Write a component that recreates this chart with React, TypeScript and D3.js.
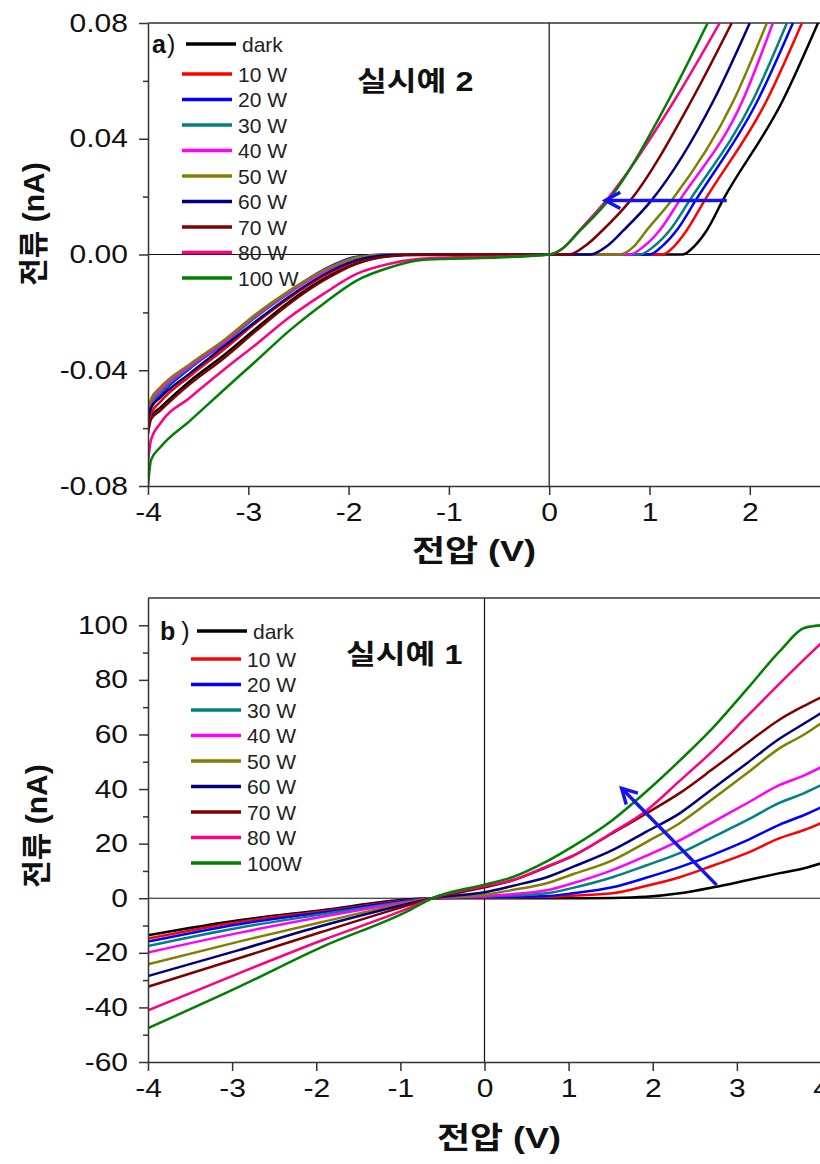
import * as d3 from 'd3'
import { useEffect, useRef } from 'react'

const seriesNamesA = ['dark', '10 W', '20 W', '30 W', '40 W', '50 W', '60 W', '70 W', '80 W', '100 W']
const seriesNamesB = ['dark', '10 W', '20 W', '30 W', '40 W', '50 W', '60 W', '70 W', '80 W', '100W']
const seriesColors = ['#000000', '#ff0000', '#0000ff', '#008080', '#ff00ff', '#808000', '#000080', '#800000', '#ff0080', '#008000']

// panel a) points as [voltage (V), current (nA)]
const aDark = [[-4, -0.061], [-3.97, -0.056], [-3.88, -0.053], [-3.58, -0.0437], [-3.25, -0.035], [-2.92, -0.0255], [-2.59, -0.0163], [-2.25, -0.0085], [-1.92, -0.003], [-1.59, -0.0005], [-1.29, 0], [1.33, 0], [1.45, 0.003], [1.57, 0.0083], [1.73, 0.0187], [2.33, 0.0533], [2.68, 0.08]]
const a10 = [[-4, -0.059], [-3.97, -0.055], [-3.88, -0.051], [-3.58, -0.042], [-3.25, -0.033], [-2.92, -0.0235], [-2.59, -0.015], [-2.25, -0.0075], [-1.92, -0.0022], [-1.59, -0.0003], [-1.29, 0], [1.13, 0], [1.25, 0.003], [1.37, 0.0083], [1.55, 0.0187], [2.17, 0.0533], [2.52, 0.08]]
const a20 = [[-4, -0.056], [-3.97, -0.0525], [-3.88, -0.0485], [-3.58, -0.0393], [-3.25, -0.0308], [-2.92, -0.021], [-2.59, -0.0128], [-2.25, -0.0053], [-1.92, -0.0008], [-1.59, 0], [1.0, 0], [1.13, 0.003], [1.27, 0.0083], [1.46, 0.0187], [2.08, 0.0533], [2.43, 0.08]]
const a30 = [[-4, -0.056], [-3.97, -0.052], [-3.88, -0.048], [-3.58, -0.039], [-3.25, -0.031], [-2.92, -0.0215], [-2.59, -0.0133], [-2.25, -0.0058], [-1.92, -0.001], [-1.59, 0], [0.9, 0], [1.05, 0.003], [1.2, 0.0083], [1.4, 0.0187], [2.03, 0.0533], [2.37, 0.08]]
const a40 = [[-4, -0.055], [-3.97, -0.051], [-3.88, -0.047], [-3.58, -0.0385], [-3.25, -0.0305], [-2.92, -0.021], [-2.59, -0.013], [-2.25, -0.006], [-1.92, -0.0012], [-1.59, 0], [0.8, 0], [0.95, 0.003], [1.1, 0.0083], [1.3, 0.0187], [1.93, 0.0533], [2.23, 0.08]]
const a50 = [[-4, -0.054], [-3.97, -0.05], [-3.88, -0.046], [-3.58, -0.0378], [-3.25, -0.0298], [-2.92, -0.0205], [-2.59, -0.0125], [-2.25, -0.0055], [-1.92, -0.001], [-1.59, 0], [0.7, 0], [0.85, 0.003], [0.97, 0.0083], [1.22, 0.0187], [1.84, 0.0533], [2.17, 0.08]]
const a60 = [[-4, -0.057], [-3.97, -0.053], [-3.88, -0.0495], [-3.58, -0.041], [-3.25, -0.032], [-2.92, -0.023], [-2.59, -0.0145], [-2.25, -0.007], [-1.92, -0.002], [-1.59, -0.0002], [-1.29, 0], [0.41, 0], [0.58, 0.003], [0.74, 0.0083], [1.02, 0.0187], [1.64, 0.0533], [2.0, 0.08]]
const a70 = [[-4, -0.062], [-3.97, -0.057], [-3.88, -0.054], [-3.58, -0.0447], [-3.25, -0.036], [-2.92, -0.0263], [-2.59, -0.017], [-2.25, -0.009], [-1.92, -0.0032], [-1.59, -0.0006], [-1.29, -0.0002], [0.2, 0], [0.36, 0.003], [0.53, 0.0083], [0.81, 0.0187], [1.42, 0.0533], [1.82, 0.08]]
const a80 = [[-4, -0.072], [-3.97, -0.064], [-3.88, -0.0585], [-3.58, -0.0494], [-3.25, -0.04], [-2.92, -0.031], [-2.59, -0.0217], [-2.25, -0.0136], [-1.92, -0.0067], [-1.59, -0.0032], [-1.29, -0.0015], [-1.0, -0.001], [-0.5, -0.0008], [0, 0], [0.13, 0.002], [0.3, 0.0083], [0.57, 0.0187], [1.25, 0.0533], [1.7, 0.08]]
const a100 = [[-4, -0.08], [-3.97, -0.071], [-3.88, -0.0667], [-3.58, -0.0574], [-3.25, -0.047], [-2.92, -0.0367], [-2.59, -0.0263], [-2.25, -0.017], [-1.92, -0.009], [-1.59, -0.0045], [-1.29, -0.002], [-1.0, -0.0015], [-0.5, -0.001], [0, 0], [0.13, 0.002], [0.31, 0.0083], [0.59, 0.0187], [1.19, 0.0533], [1.58, 0.08]]

// panel b) currents (nA) on a shared voltage grid
const bVolts = [-4, -2.92, -1.93, -0.93, -0.62, 0, 0.33, 0.74, 1.05, 1.52, 1.92, 2.32, 2.72, 3.12, 3.51, 3.8, 4]
const bDark = [-13.6, -8.1, -4.4, -0.5, 0, 0, 0, 0, 0, 0.1, 0.5, 1.8, 4, 6.6, 9.2, 11, 12.8]
const b10 = [-14.8, -8.7, -4.8, -0.8, 0, 0.2, 0.3, 0.5, 0.9, 1.8, 4.5, 7.7, 12, 16.5, 22, 25, 27.5]
const b20 = [-15.9, -9.5, -5.2, -1.0, 0, 0.4, 0.5, 0.8, 1.8, 4, 7.5, 11.4, 16, 21.2, 27, 30.5, 33.3]
const b30 = [-17.5, -10.8, -5.9, -1.3, 0, 0.6, 1, 1.8, 3.8, 7.7, 12, 16.5, 22.5, 28.6, 35, 38.5, 41.4]
const b40 = [-19.9, -12.7, -6.8, -1.5, 0, 0.8, 1.5, 2.9, 5.5, 10.3, 15.5, 21.2, 28, 34.8, 41.5, 45, 48]
const b50 = [-24.2, -15.9, -8.7, -1.8, 0, 1.3, 3, 5.5, 8.8, 13.9, 20.5, 27.5, 36.5, 45.8, 55, 60, 64.1]
const b60 = [-28.5, -19, -10.1, -2.2, 0, 2.2, 4.5, 7.7, 11.5, 17.6, 24.3, 31.1, 40.3, 49.5, 58.5, 64, 67.8]
const b70 = [-32.4, -22, -12.3, -2.8, 0, 4, 6.5, 11.4, 15.5, 23.8, 31, 38.5, 47.5, 56.8, 65.5, 70.5, 73.6]
const b80 = [-41.1, -27.5, -15.4, -4, 0, 4.5, 6.6, 11.7, 15.5, 24.1, 32, 43, 54.2, 66.6, 78.7, 87.5, 93.4]
const b100 = [-47.6, -32.5, -17.8, -5, 0, 5, 7.7, 13.5, 19, 28.6, 39, 50.4, 62.6, 76.6, 90.5, 99, 100]

const aXTicks = [-4, -3, -2, -1, 0, 1, 2]
const aXLabels = ['-4', '-3', '-2', '-1', '0', '1', '2']
const aYTicks = [-0.08, -0.04, 0, 0.04, 0.08]
const aYLabels = ['-0.08', '-0.04', '0.00', '0.04', '0.08']
const aYMinor = [-0.06, -0.02, 0.02, 0.06]

const bXTicks = [-4, -3, -2, -1, 0, 1, 2, 3, 4]
const bXLabels = ['-4', '-3', '-2', '-1', '0', '1', '2', '3', '4']
const bYTicks = [-60, -40, -20, 0, 20, 40, 60, 80, 100]
const bYLabels = ['-60', '-40', '-20', '0', '20', '40', '60', '80', '100']
const bYMinor = [-50, -30, -10, 10, 30, 50, 70, 90]

// arrows: [tail, tip]
const arrowA = [[1.77, 0.0187], [0.56, 0.0187]]
const arrowB = [[2.76, 4.8], [1.63, 40.3]]

const LATIN = '"Liberation Sans", Arial, sans-serif'
const KOREAN = '"Liberation Sans", "Noto Sans CJK KR", sans-serif'
const STRETCH = 1.2

function drawPanel(svg, o) {
  const { x, y } = o
  const [x0, x1] = x.range()
  const [yb, yt] = y.range()
  const g = svg.append('g')

  const clipId = 'clip-' + o.key
  svg.append('defs').append('clipPath').attr('id', clipId)
    .append('rect').attr('x', x0).attr('y', yt).attr('width', x1 - x0).attr('height', yb - yt)

  // zero lines and frame top
  g.append('line').attr('x1', x0).attr('x2', x1).attr('y1', y(0)).attr('y2', y(0))
    .attr('stroke', '#111').attr('stroke-width', 1.2)
  g.append('line').attr('x1', x(0)).attr('x2', x(0)).attr('y1', yt).attr('y2', yb)
    .attr('stroke', '#111').attr('stroke-width', 1.2)
  g.append('line').attr('x1', x0).attr('x2', x1).attr('y1', yt).attr('y2', yt)
    .attr('stroke', '#333').attr('stroke-width', 1.5)

  const line = d3.line().x(d => x(d[0])).y(d => y(d[1])).curve(d3.curveMonotoneX)
  g.append('g').attr('clip-path', `url(#${clipId})`)
    .selectAll('path').data(o.series).join('path')
    .attr('d', d => line(d))
    .attr('fill', 'none')
    .attr('stroke', (d, i) => seriesColors[i])
    .attr('stroke-width', 2.5)
    .attr('stroke-linejoin', 'round')

  // y axis
  const yAxis = g.append('g').attr('transform', `translate(${x0},0)`)
    .call(d3.axisLeft(y).tickValues(o.yTicks).tickFormat((d, i) => o.yLabels[i]).tickSize(9).tickSizeOuter(0))
  g.append('g').attr('transform', `translate(${x0},0)`)
    .call(d3.axisLeft(y).tickValues(o.yMinor).tickFormat(() => '').tickSize(5).tickSizeOuter(0))
    .call(a => a.select('.domain').remove())
    .selectAll('line').attr('stroke', '#333').attr('stroke-width', 1.5)
  yAxis.selectAll('path,line').attr('stroke', '#333').attr('stroke-width', 1.5)
  yAxis.selectAll('text')
    .attr('font-size', 25).attr('font-family', LATIN).attr('fill', '#111')
    .attr('x', -20 / STRETCH).attr('transform', `scale(${STRETCH},1)`)

  // x axis
  const xAxis = g.append('g').attr('transform', `translate(0,${yb})`)
    .call(d3.axisBottom(x).tickValues(o.xTicks).tickFormat((d, i) => o.xLabels[i]).tickSize(9).tickSizeOuter(0).tickPadding(8))
  xAxis.selectAll('path,line').attr('stroke', '#333').attr('stroke-width', 1.5)
  xAxis.selectAll('text')
    .attr('font-size', 25).attr('font-family', LATIN).attr('fill', '#111')
    .attr('transform', `scale(${STRETCH},1)`)

  // legend
  const lg = o.legend
  o.names.forEach((name, i) => {
    const ry = i === 0 ? lg.darkY : lg.firstY + (i - 1) * lg.gap
    const lx = i === 0 ? lg.darkX : lg.x
    g.append('line').attr('x1', lx).attr('x2', lx + 50).attr('y1', ry).attr('y2', ry)
      .attr('stroke', seriesColors[i]).attr('stroke-width', 3.5)
    g.append('text').attr('x', lx + 56).attr('y', ry).attr('dominant-baseline', 'central')
      .attr('font-size', 21).attr('font-family', LATIN).attr('fill', '#222').text(name)
  })
  const tag = g.append('text').attr('x', lg.tagX).attr('y', lg.darkY).attr('dominant-baseline', 'central')
    .attr('font-family', LATIN).attr('font-size', 25).attr('fill', '#111')
  tag.append('tspan').attr('font-weight', 'bold').text(o.tag)
  tag.append('tspan').attr('dx', o.tagGap).text(')')

  // sample title
  g.append('text').attr('transform', `translate(${o.titleX},${o.titleY}) scale(${STRETCH},1)`)
    .attr('dominant-baseline', 'central').attr('font-family', KOREAN)
    .attr('font-weight', 'bold').attr('font-size', 27).attr('fill', '#111').text(o.title)

  // axis titles
  g.append('text').attr('transform', `translate(${o.xTitleX},${o.xTitleY}) scale(${STRETCH},1)`)
    .attr('text-anchor', 'middle').attr('dominant-baseline', 'central').attr('font-family', KOREAN)
    .attr('font-weight', 'bold').attr('font-size', 30).attr('fill', '#111').text('전압 (V)')
  g.append('text').attr('transform', `translate(${o.yTitleX},${o.yTitleY}) rotate(-90)`)
    .attr('text-anchor', 'middle').attr('dominant-baseline', 'central').attr('font-family', KOREAN)
    .attr('font-weight', 'bold').attr('font-size', 30).attr('fill', '#111').text('전류 (nA)')

  // arrow
  const [p0, p1] = o.arrow.map(p => [x(p[0]), y(p[1])])
  const ang = Math.atan2(p1[1] - p0[1], p1[0] - p0[0])
  const arm = 17
  const head = [ang + Math.PI - 0.5, ang + Math.PI + 0.5].map(a => [p1[0] + arm * Math.cos(a), p1[1] + arm * Math.sin(a)])
  g.append('line').attr('x1', p0[0]).attr('y1', p0[1]).attr('x2', p1[0]).attr('y2', p1[1])
    .attr('stroke', '#1414f0').attr('stroke-width', 3.5)
  g.append('path').attr('d', `M${head[0][0]},${head[0][1]}L${p1[0]},${p1[1]}L${head[1][0]},${head[1][1]}`)
    .attr('fill', 'none').attr('stroke', '#1414f0').attr('stroke-width', 3.5).attr('stroke-linejoin', 'miter')
}

export default function App() {
  const ref = useRef(null)

  useEffect(() => {
    const svg = d3.select(ref.current)
    svg.selectAll('*').remove()
    svg.append('rect').attr('width', 820).attr('height', 1164).attr('fill', '#fff')

    const xA = d3.scaleLinear().domain([-4, 2.7]).range([148, 820])
    const yA = d3.scaleLinear().domain([-0.08, 0.08]).range([486, 23])
    drawPanel(svg, {
      key: 'a', x: xA, y: yA,
      series: [aDark, a10, a20, a30, a40, a50, a60, a70, a80, a100],
      names: seriesNamesA,
      xTicks: aXTicks, xLabels: aXLabels, yTicks: aYTicks, yLabels: aYLabels, yMinor: aYMinor,
      legend: { darkY: 44, darkX: 186, firstY: 74, gap: 25.5, x: 182, tagX: 152 },
      tag: 'a', tagGap: 1,
      title: '실시예 2', titleX: 357, titleY: 81,
      xTitleX: 474, xTitleY: 551, yTitleX: 33, yTitleY: 224,
      arrow: arrowA,
    })

    const xB = d3.scaleLinear().domain([-4, 4]).range([148, 821])
    const yB = d3.scaleLinear().domain([-60, 110]).range([1062, 598])
    const bSeries = [bDark, b10, b20, b30, b40, b50, b60, b70, b80, b100]
      .map(vals => vals.map((v, i) => [bVolts[i], v]))
    drawPanel(svg, {
      key: 'b', x: xB, y: yB,
      series: bSeries,
      names: seriesNamesB,
      xTicks: bXTicks, xLabels: bXLabels, yTicks: bYTicks, yLabels: bYLabels, yMinor: bYMinor,
      legend: { darkY: 631, darkX: 197, firstY: 659, gap: 25.5, x: 191, tagX: 160 },
      tag: 'b', tagGap: 6,
      title: '실시예 1', titleX: 346, titleY: 654,
      xTitleX: 499, xTitleY: 1138, yTitleX: 36, yTitleY: 826,
      arrow: arrowB,
    })
  }, [])

  return (
    <svg ref={ref} width={820} height={1164}
      style={{ position: 'absolute', left: 0, top: 0, display: 'block' }} />
  )
}
